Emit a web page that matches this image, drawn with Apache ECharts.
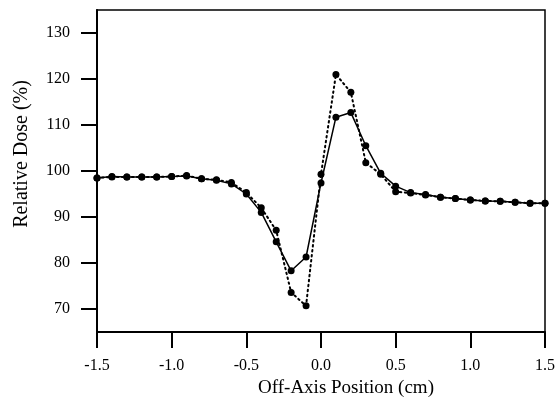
<!DOCTYPE html>
<html style="height: 100%">
<head>
<meta charset="utf-8">
</head>
<body style="height: 100%; margin: 0; background: #fff">
<div id="container" style="width: 558px; height: 410px"></div>
<script src="https://cdn.jsdelivr.net/npm/echarts@6/dist/echarts.min.js"></script>
<script>
var positions = [-1.5, -1.4, -1.3, -1.2, -1.1, -1.0, -0.9, -0.8, -0.7, -0.6, -0.5,
  -0.4, -0.3, -0.2, -0.1, 0.0, 0.1, 0.2, 0.3, 0.4, 0.5,
  0.6, 0.7, 0.8, 0.9, 1.0, 1.1, 1.2, 1.3, 1.4, 1.5];
var solidDose = [98.5, 98.8, 98.7, 98.7, 98.7, 98.8, 98.9, 98.3, 98.0, 97.2, 95.0,
  91.0, 84.6, 78.3, 81.3, 97.4, 111.7, 112.7, 105.5, 99.5, 96.7,
  95.3, 94.9, 94.3, 94.0, 93.7, 93.5, 93.4, 93.2, 93.0, 93.0];
var dottedDose = [98.5, 98.7, 98.7, 98.7, 98.7, 98.8, 99.0, 98.3, 98.1, 97.5, 95.3,
  92.0, 87.1, 73.6, 70.7, 99.3, 121.0, 117.1, 101.8, 99.3, 95.5,
  95.2, 94.8, 94.3, 94.0, 93.7, 93.5, 93.4, 93.2, 93.0, 93.0];
var yTicks = [70, 80, 90, 100, 110, 120, 130];

function pairs(vals) {
  return positions.map(function (x, i) { return [x, vals[i]]; });
}

var chart = echarts.init(document.getElementById('container'));
var font = 'Liberation Serif';

var option = {
  animation: false,
  backgroundColor: '#fff',
  grid: {
    left: 97, right: 12, top: 10, bottom: 78,
    show: true, borderColor: '#000', borderWidth: 1.5
  },
  xAxis: {
    type: 'value', min: -1.5, max: 1.5, interval: 0.5,
    name: 'Off-Axis Position (cm)', nameLocation: 'middle', nameGap: 46,
    nameTextStyle: { fontFamily: font, fontSize: 19, color: '#000', padding: [0, 0, 0, 50] },
    axisLine: { onZero: false, lineStyle: { color: '#000', width: 2 } },
    axisTick: { inside: false, length: 16, lineStyle: { color: '#000', width: 2 } },
    axisLabel: {
      fontFamily: font, fontSize: 16, color: '#000', margin: 26,
      formatter: function (v) { return v.toFixed(1); }
    },
    splitLine: { show: false }
  },
  yAxis: {
    type: 'value', min: 65, max: 135,
    name: 'Relative Dose (%)', nameLocation: 'middle', nameGap: 65,
    nameTextStyle: { fontFamily: font, fontSize: 20, color: '#000', padding: [0, 0, 0, 34] },
    axisLine: { onZero: false, lineStyle: { color: '#000', width: 2 } },
    axisTick: { inside: false, length: 16, customValues: yTicks, lineStyle: { color: '#000', width: 2 } },
    axisLabel: { fontFamily: font, fontSize: 16, color: '#000', margin: 27, customValues: yTicks },
    splitLine: { show: false }
  },
  series: [{
    type: 'line',
    data: pairs(dottedDose),
    symbol: 'circle', symbolSize: 7,
    itemStyle: { color: '#000' },
    lineStyle: { color: '#000', width: 2, type: [1.5, 3.5], cap: 'round' }
  }, {
    type: 'line',
    data: pairs(solidDose),
    symbol: 'circle', symbolSize: 7,
    itemStyle: { color: '#000' },
    lineStyle: { color: '#000', width: 1.5 }
  }]
};
chart.setOption(option);
</script>
</body>
</html>
